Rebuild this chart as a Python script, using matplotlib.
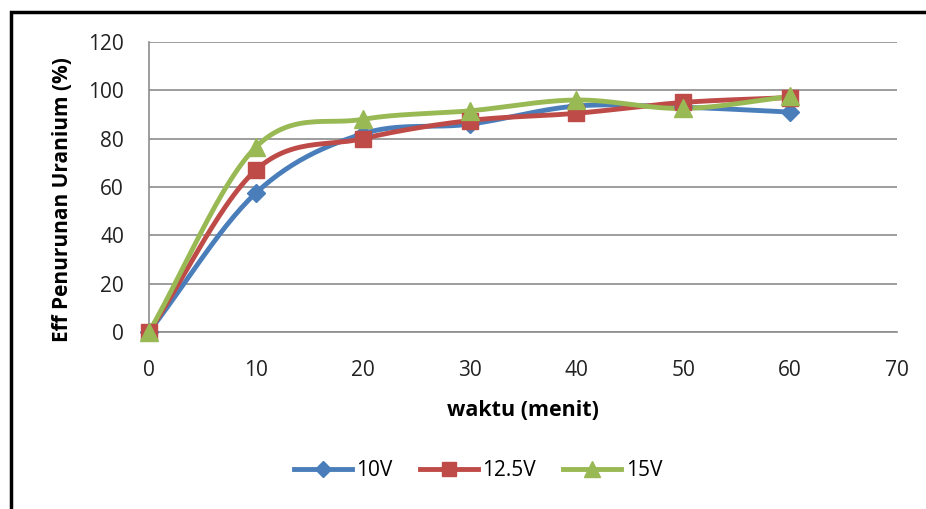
import numpy as np
import matplotlib
matplotlib.use("Agg")
import matplotlib.pyplot as plt
from matplotlib.patches import Rectangle

# data
waktu = [0, 10, 20, 30, 40, 50, 60]
eff_10v = [0, 57.5, 82, 86, 93.5, 93, 91]
eff_12v5 = [0, 67, 80, 87.5, 90.5, 95, 97]
eff_15v = [0, 76.5, 88, 91.5, 96, 92.5, 97.5]
series_labels = ["10V", "12.5V", "15V"]
x_ticks = [0, 10, 20, 30, 40, 50, 60, 70]
y_ticks = [0, 20, 40, 60, 80, 100, 120]

colors = ["#4A7EBB", "#BE4B48", "#98B954"]
markers = ["D", "s", "^"]
msizes = [9, 12, 13]

plt.rcParams["font.family"] = ["Open Sans", "DejaVu Sans"]


def smooth(x, y, n=30):
    # Catmull-Rom style smoothing, like Excel's "smoothed line"
    x = np.asarray(x, float)
    y = np.asarray(y, float)
    px = np.concatenate([[2 * x[0] - x[1]], x, [2 * x[-1] - x[-2]]])
    py = np.concatenate([[2 * y[0] - y[1]], y, [2 * y[-1] - y[-2]]])
    xs, ys = [], []
    t = np.linspace(0, 1, n)
    for i in range(1, len(px) - 2):
        p0, p1, p2, p3 = [np.array([px[j], py[j]]) for j in range(i - 1, i + 3)]
        m1 = (p2 - p0) / 6.0
        m2 = (p3 - p1) / 6.0
        b0, b1, b2, b3 = p1, p1 + m1, p2 - m2, p2
        pts = ((1 - t) ** 3)[:, None] * b0 + (3 * (1 - t) ** 2 * t)[:, None] * b1 \
            + (3 * (1 - t) * t ** 2)[:, None] * b2 + (t ** 3)[:, None] * b3
        xs.extend(pts[:, 0])
        ys.extend(pts[:, 1])
    return np.array(xs), np.array(ys)


fig = plt.figure(figsize=(9.26, 5.09), dpi=100)
ax = fig.add_axes([149 / 926, 1 - 332 / 509, (897 - 149) / 926, (332 - 42) / 509])

for ys, lab, c, m, ms in zip([eff_10v, eff_12v5, eff_15v], series_labels, colors, markers, msizes):
    sx, sy = smooth(waktu, ys)
    ax.plot(sx, sy, color=c, lw=3.5, solid_capstyle="round", zorder=3)
    ax.plot(waktu, ys, linestyle="none", marker=m, ms=ms, color=c, zorder=4)
    ax.plot([], [], color=c, lw=3.5, marker=m, ms=ms * 0.85, label=lab)

ax.set_xlim(0, 70)
ax.set_ylim(0, 120)
ax.set_xticks(x_ticks)
ax.set_yticks(y_ticks)
ax.tick_params(length=0, labelsize=15, colors="#222222")
ax.tick_params(axis="x", pad=20)
ax.tick_params(axis="y", pad=18)
ax.grid(axis="y", color="#8c8c8c", lw=1.2)
ax.set_axisbelow(True)
for s in ["top", "right"]:
    ax.spines[s].set_visible(False)
ax.spines["left"].set_color("#8c8c8c")
ax.spines["bottom"].set_color("#8c8c8c")
ax.spines["left"].set_linewidth(1.2)
ax.spines["bottom"].set_linewidth(1.2)
for ln in ax.lines:
    ln.set_clip_on(False)

ax.set_xlabel("waktu (menit)", fontsize=15.5, fontweight="bold", labelpad=14)
ax.set_ylabel("Eff Penurunan Uranium (%)", fontsize=15, fontweight="bold")
ax.yaxis.set_label_coords(-0.102, 0.455)

fig.legend(loc="center", bbox_to_anchor=(478 / 926, 1 - 471 / 509), ncol=3, frameon=False,
           fontsize=15, handlelength=2.8, columnspacing=1.3, handletextpad=0.2)

# outer chart frame (cropped at right and bottom)
fig.patches.append(Rectangle((11 / 926, -0.1), 1.2, 1 - 12 / 509 + 0.1, transform=fig.transFigure,
                             fill=False, edgecolor="black", lw=2.5))

fig.savefig("out.png", dpi=100)
